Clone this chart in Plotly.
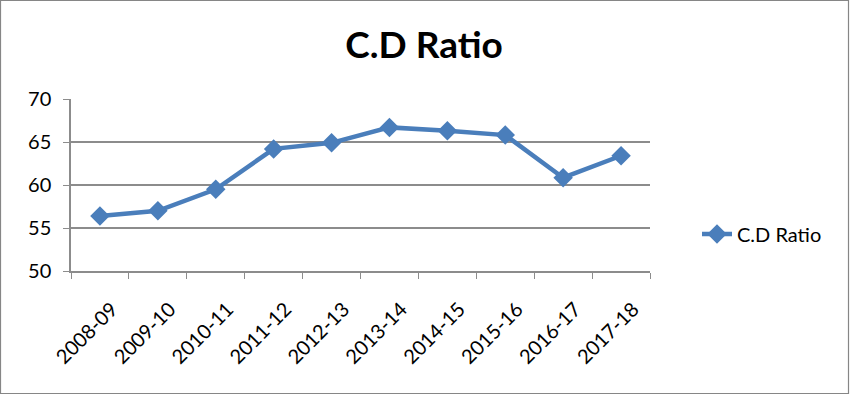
import plotly.graph_objects as go

categories = ["2008-09", "2009-10", "2010-11", "2011-12", "2012-13",
              "2013-14", "2014-15", "2015-16", "2016-17", "2017-18"]
cd_ratio = [56.4, 57.0, 59.5, 64.2, 64.9, 66.7, 66.3, 65.8, 60.85, 63.4]
series_name = "C.D Ratio"
title_text = "C.D Ratio"
y_ticks = [50, 55, 60, 65, 70]

W, H = 850, 395
ML, MR, MT, MB = 71, 200, 99, 124
pw = W - ML - MR
ph = H - MT - MB
FONT = "Lato, Open Sans, sans-serif"

fig = go.Figure()
fig.add_trace(go.Scatter(
    x=categories, y=cd_ratio, name=series_name, mode="lines+markers",
    line=dict(color="#4A7EBB", width=4.5),
    marker=dict(symbol="diamond", size=15, color="#4A7EBB"),
))

grid = "#8C8C8C"
fig.update_layout(
    width=W, height=H,
    margin=dict(l=ML, r=MR, t=MT, b=MB),
    paper_bgcolor="white", plot_bgcolor="white",
    font=dict(family=FONT, color="black"),
    title=dict(text=f"<b>{title_text}</b>", x=424 / W, xanchor="center",
               y=1 - 45 / H, yanchor="middle",
               font=dict(size=37, family=FONT, color="black")),
    showlegend=True,
    legend=dict(x=(697 - ML) / pw, y=1 - (234 - MT) / ph, xanchor="left", yanchor="middle",
                font=dict(size=20), bgcolor="rgba(0,0,0,0)"),
    xaxis=dict(
        type="category", tickson="boundaries", ticks="outside", ticklen=6,
        tickcolor=grid, showline=True, linecolor=grid, linewidth=1.5,
        showgrid=False, tickangle=-45, tickfont=dict(size=20),
        ticklabelstandoff=17, ticklabelshift=12,
        range=[-0.5, len(categories) - 0.5],
    ),
    yaxis=dict(
        range=[50, 70], tickvals=y_ticks, ticks="outside", ticklen=6, tickcolor=grid,
        showline=True, linecolor=grid, linewidth=1.5,
        showgrid=True, gridcolor=grid, gridwidth=1.5,
        tickfont=dict(size=20), ticklabelstandoff=8, zeroline=False,
    ),
    shapes=[dict(type="rect", xref="paper", yref="paper",
                 x0=-(ML - 0.5) / pw, x1=1 + (MR - 1.5) / pw,
                 y0=-(MB - 1.5) / ph, y1=1 + (MT - 0.5) / ph,
                 line=dict(color="#868686", width=1.2))],
)

fig.write_html("out.html", config={"displayModeBar": False},
               post_script="document.body.style.margin='0';document.body.style.overflow='hidden';")
